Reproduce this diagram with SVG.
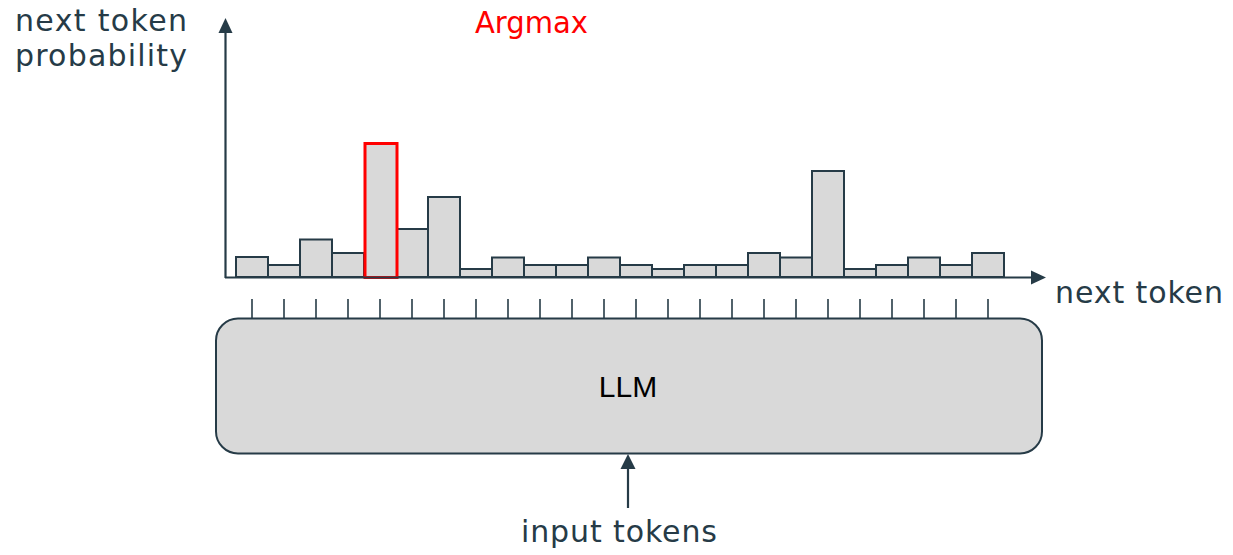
<svg xmlns="http://www.w3.org/2000/svg" width="1233" height="555" viewBox="0 0 1233 555">
  <style>
    .lbl { font-family: "DejaVu Sans", "Liberation Sans", sans-serif; font-size: 30px; fill: #263b47; }
    .red { fill: #ff0000; }
    .bar { fill: #d9d9d9; stroke: #263b47; stroke-width: 2; }
    .axis { stroke: #263b47; stroke-width: 2.2; fill: none; }
    .tick { stroke: #263b47; stroke-width: 1.6; }
    .head { fill: #263b47; }
  </style>
  <rect width="1233" height="555" fill="#ffffff"/>

  <g id="bars">
    <rect class="bar" x="236" y="257" width="32" height="20"/>
    <rect class="bar" x="268" y="265" width="32" height="12"/>
    <rect class="bar" x="300" y="239.5" width="32" height="37.5"/>
    <rect class="bar" x="332" y="253" width="32" height="24"/>
    <rect class="bar" x="396" y="229" width="32" height="48"/>
    <rect class="bar" x="428" y="197" width="32" height="80"/>
    <rect class="bar" x="460" y="269" width="32" height="8"/>
    <rect class="bar" x="492" y="257.5" width="32" height="19.5"/>
    <rect class="bar" x="524" y="265" width="32" height="12"/>
    <rect class="bar" x="556" y="265" width="32" height="12"/>
    <rect class="bar" x="588" y="257.5" width="32" height="19.5"/>
    <rect class="bar" x="620" y="265" width="32" height="12"/>
    <rect class="bar" x="652" y="269" width="32" height="8"/>
    <rect class="bar" x="684" y="265" width="32" height="12"/>
    <rect class="bar" x="716" y="265" width="32" height="12"/>
    <rect class="bar" x="748" y="253" width="32" height="24"/>
    <rect class="bar" x="780" y="257.5" width="32" height="19.5"/>
    <rect class="bar" x="812" y="171" width="32" height="106"/>
    <rect class="bar" x="844" y="269" width="32" height="8"/>
    <rect class="bar" x="876" y="265" width="32" height="12"/>
    <rect class="bar" x="908" y="257.5" width="32" height="19.5"/>
    <rect class="bar" x="940" y="265" width="32" height="12"/>
    <rect class="bar" x="972" y="253" width="32" height="24"/>
  </g>
  <g id="argmax-bar">
    <rect x="365" y="143.5" width="32" height="134" fill="#d9d9d9" stroke="#ff0000" stroke-width="3"/>
  </g>

  <g id="axes">
    <line class="axis" x1="225.5" y1="30" x2="225.5" y2="278"/>
    <polygon class="head" points="225.5,18 218.5,33 232.5,33"/>
    <line class="axis" x1="225" y1="277.5" x2="1034" y2="277.5"/>
    <polygon class="head" points="1046,277.5 1031,270.5 1031,284.5"/>
  </g>

  <g id="ticks">
    <line class="tick" x1="252" y1="299" x2="252" y2="318"/>
    <line class="tick" x1="284" y1="299" x2="284" y2="318"/>
    <line class="tick" x1="316" y1="299" x2="316" y2="318"/>
    <line class="tick" x1="348" y1="299" x2="348" y2="318"/>
    <line class="tick" x1="380" y1="299" x2="380" y2="318"/>
    <line class="tick" x1="412" y1="299" x2="412" y2="318"/>
    <line class="tick" x1="444" y1="299" x2="444" y2="318"/>
    <line class="tick" x1="476" y1="299" x2="476" y2="318"/>
    <line class="tick" x1="508" y1="299" x2="508" y2="318"/>
    <line class="tick" x1="540" y1="299" x2="540" y2="318"/>
    <line class="tick" x1="572" y1="299" x2="572" y2="318"/>
    <line class="tick" x1="604" y1="299" x2="604" y2="318"/>
    <line class="tick" x1="636" y1="299" x2="636" y2="318"/>
    <line class="tick" x1="668" y1="299" x2="668" y2="318"/>
    <line class="tick" x1="700" y1="299" x2="700" y2="318"/>
    <line class="tick" x1="732" y1="299" x2="732" y2="318"/>
    <line class="tick" x1="764" y1="299" x2="764" y2="318"/>
    <line class="tick" x1="796" y1="299" x2="796" y2="318"/>
    <line class="tick" x1="828" y1="299" x2="828" y2="318"/>
    <line class="tick" x1="860" y1="299" x2="860" y2="318"/>
    <line class="tick" x1="892" y1="299" x2="892" y2="318"/>
    <line class="tick" x1="924" y1="299" x2="924" y2="318"/>
    <line class="tick" x1="956" y1="299" x2="956" y2="318"/>
    <line class="tick" x1="988" y1="299" x2="988" y2="318"/>
  </g>

  <g id="llm">
    <rect x="216" y="318.5" width="826" height="135" rx="22" ry="22" fill="#d9d9d9" stroke="#263b47" stroke-width="2"/>
    <text x="628" y="397" text-anchor="middle" font-family="'Liberation Sans', Arial, sans-serif" font-size="30" fill="#000000">LLM</text>
  </g>

  <g id="connectors">
    <line class="axis" x1="628" y1="466" x2="628" y2="508"/>
    <polygon class="head" points="628,454 620.5,469 635.5,469"/>
  </g>

  <g id="labels">
    <text class="lbl" x="15" y="31" textLength="172" lengthAdjust="spacing">next token</text>
    <text class="lbl" x="15" y="66" textLength="172" lengthAdjust="spacing">probability</text>
    <text class="lbl red" x="475" y="33" textLength="113" lengthAdjust="spacingAndGlyphs">Argmax</text>
    <text class="lbl" x="1055" y="303" textLength="168" lengthAdjust="spacing">next token</text>
    <text class="lbl" x="521" y="542" textLength="196" lengthAdjust="spacing">input tokens</text>
  </g>
</svg>
